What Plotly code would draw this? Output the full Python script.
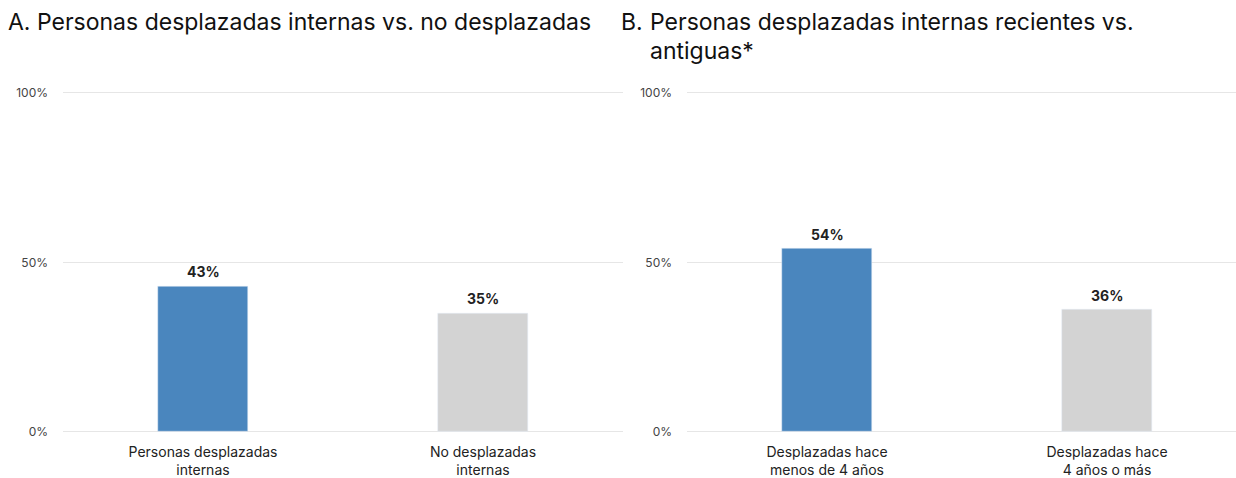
import plotly.graph_objects as go

# panel A
cats_a = ["Personas desplazadas<br>internas", "No desplazadas<br>internas"]
vals_a = [43, 35]
# panel B
cats_b = ["Desplazadas hace<br>menos de 4 años", "Desplazadas hace<br>4 años o más"]
vals_b = [54, 36]

y_ticks = [0, 50, 100]
y_ticktext = [f"{v}%" for v in y_ticks]

bar_colors = ["#4a86be", "#d3d3d3"]
FONT = "Inter"
W, H = 1236, 478


def px_x(x):
    return x / W


def px_y(y):
    return 1 - y / H


fig = go.Figure()

for vals, xa, ya in [(vals_a, "x", "y"), (vals_b, "x2", "y2")]:
    fig.add_trace(go.Bar(
        x=[0, 1], y=vals, width=0.32, marker_color=bar_colors,
        xaxis=xa, yaxis=ya, showlegend=False, hoverinfo="skip",
    ))
    # value labels above the bars
    for i, v in enumerate(vals):
        fig.add_annotation(
            x=i, y=v, xref=xa, yref=ya, text=f"<b>{v}%</b>", showarrow=False,
            yanchor="bottom", yshift=4,
            font=dict(family=FONT, size=14, color="#222222"),
        )

# 0 -> y=438px, 100 -> y=91px; range padded a bit so the 100% grid line is drawn
y_top, y_bot = 91, 438
pad = 1.0
px_per_unit = (y_bot - y_top) / 100
y_domain = [px_y(y_bot), px_y(y_top - pad * px_per_unit)]
yaxis_common = dict(
    range=[0, 100 + pad], tickvals=y_ticks, ticktext=y_ticktext,
    showgrid=True, gridcolor="#e6e6e6", gridwidth=1,
    zeroline=True, zerolinecolor="#e6e6e6", zerolinewidth=1,
    showline=False, ticks="", ticklabelstandoff=14,
    tickfont=dict(family=FONT, size=12, color="#444444"),
    domain=y_domain, fixedrange=True,
)
xaxis_common = dict(
    tickvals=[0, 1], showgrid=False, zeroline=False, showline=False,
    ticks="", ticklabelstandoff=10,
    tickfont=dict(family=FONT, size=14, color="#222222"),
    fixedrange=True,
)

fig.update_layout(
    width=W, height=H,
    margin=dict(l=0, r=0, t=0, b=0),
    paper_bgcolor="white", plot_bgcolor="white",
    bargap=0,
    xaxis=dict(xaxis_common, domain=[px_x(63), px_x(623)], range=[-0.5, 1.5],
               ticktext=cats_a, anchor="y"),
    yaxis=dict(yaxis_common, anchor="x"),
    xaxis2=dict(xaxis_common, domain=[px_x(687), 1.0],
                range=[-0.5, -0.5 + (W - 687) / 280], ticktext=cats_b, anchor="y2"),
    yaxis2=dict(yaxis_common, anchor="x2"),
)

title_font = dict(family=FONT, size=23, color="#111111")
titles = [
    ("A. Personas desplazadas internas vs. no desplazadas", 6, 18),
    ("B.", 619, 18),
    ("Personas desplazadas internas recientes vs.", 648, 18),
    ("antiguas*", 648, 48),
]
for txt, x, y in titles:
    fig.add_annotation(text=txt, xref="paper", yref="paper", x=px_x(x), y=px_y(y),
                       xanchor="left", yanchor="middle", showarrow=False, font=title_font)

fig.write_html(
    "out.html",
    config={"displayModeBar": False},
    post_script="document.body.style.margin='0';document.body.style.overflow='hidden';",
)
